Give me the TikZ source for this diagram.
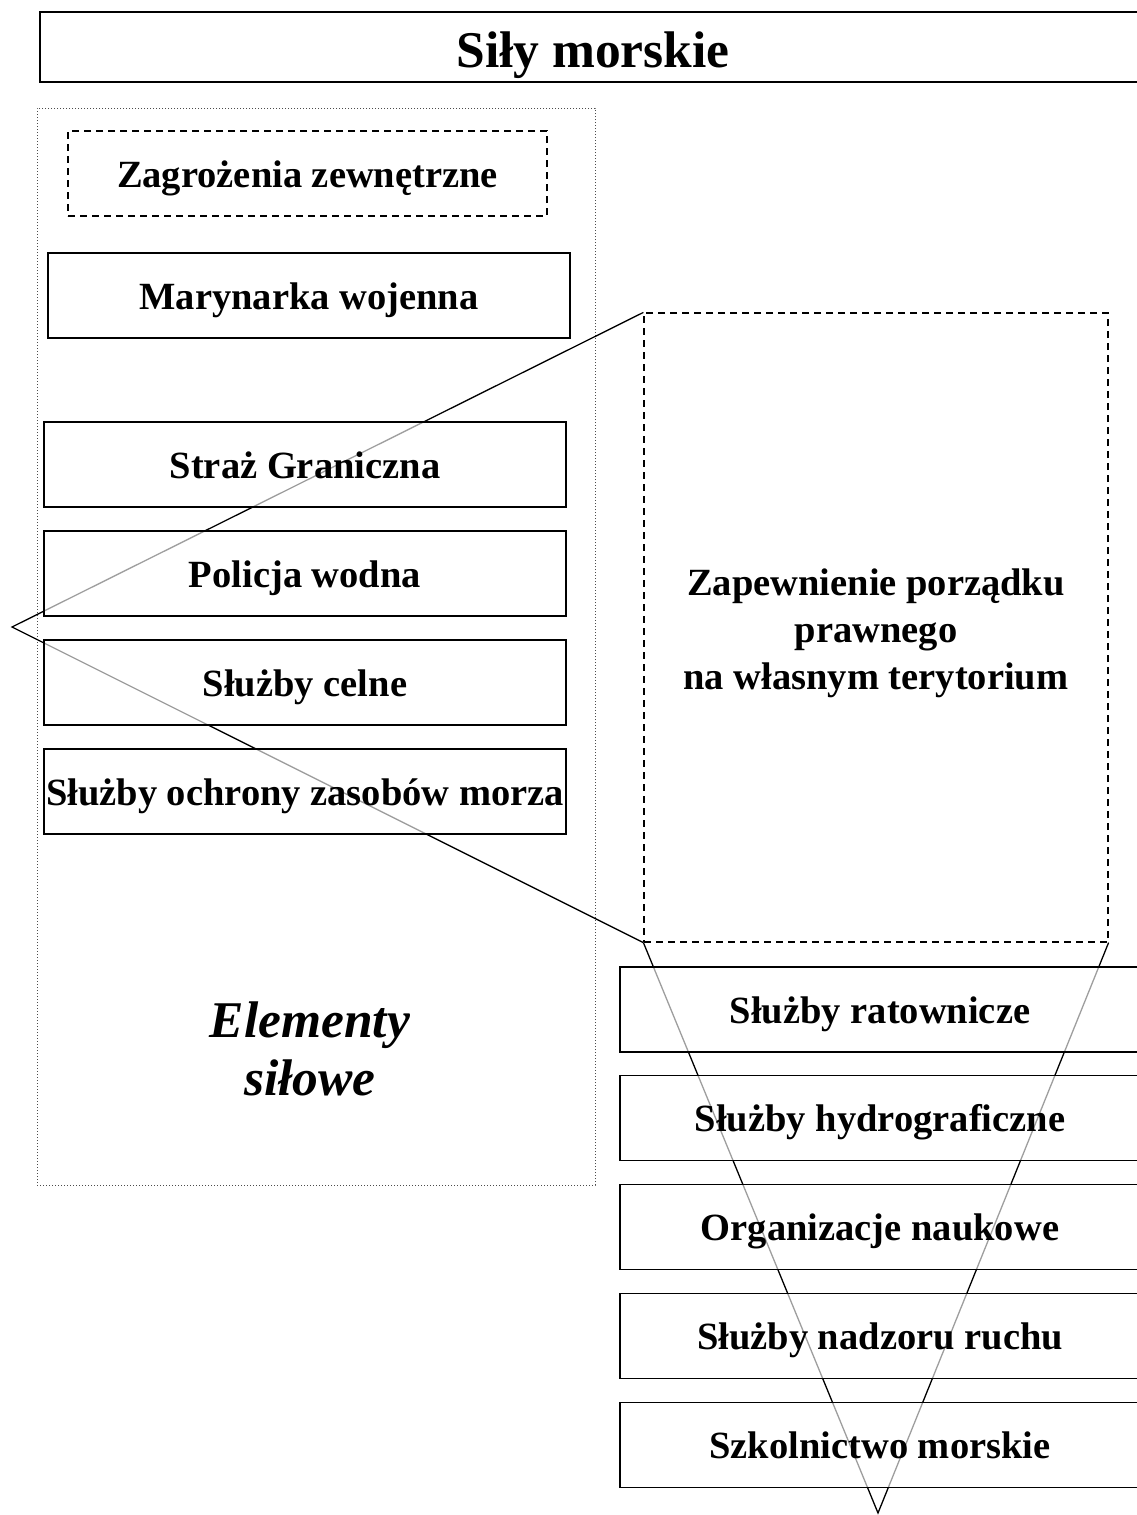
\documentclass[tikz,border=0pt]{standalone}
\usepackage{fontspec}
\setmainfont{Liberation Serif}
\begin{document}
\begin{tikzpicture}[x=1pt,y=-1pt,
  box/.style={draw=black,line width=1.4pt,fill=white,fill opacity=0.62,text opacity=1,
    font=\fontsize{38.5}{46}\selectfont\bfseries,inner sep=0pt,minimum height=85pt,
    text height=33pt,text depth=6pt},
  lbox/.style={box,minimum width=522pt},
  rbox/.style={box,minimum width=520pt},
  tri/.style={draw=black,line width=1.3pt},
  bigfont/.style={font=\fontsize{51.5}{58}\selectfont\bfseries}]
\useasboundingbox (0,0) rectangle (1137,1515);
\clip (0,0) rectangle (1137,1515);
% title
\node[draw=black,line width=1.6pt,minimum width=1106pt,minimum height=70pt,inner sep=0pt,bigfont,
  text height=42pt,text depth=2pt] (title) at (593,47) {Siły morskie};
% container
\node[draw=black!70,dotted,line width=1pt,minimum width=558pt,minimum height=1077pt,inner sep=0pt] (cont) at (316,646.5) {};
% big dashed box
\node[draw=black,dashed,dash pattern=on 7pt off 5pt,line width=1.2pt,minimum width=464pt,minimum height=629pt,inner sep=0pt] (order) at (876,627.5) {};
\node[align=center,font=\fontsize{38.5}{47}\selectfont\bfseries,inner sep=0pt] (ordertext) at (876,633)
  {Zapewnienie porządku\\prawnego\\ na własnym terytorium};
\coordinate (apexL) at (12,627);
\coordinate (apexB) at (878,1513);
% triangles (drawn below boxes)
\draw[tri] (order.north west) -- (apexL) -- (order.south west);
\draw[tri] (order.south west) -- (apexB) -- (order.south east);
% left boxes
\node[box,dashed,dash pattern=on 7pt off 5pt,minimum width=479pt] (zag) at (307.5,173.5) {Zagrożenia zewnętrzne};
\node[lbox] (mar) at (309,295.5) {Marynarka wojenna};
\node[lbox] (sg) at (305,464.5) {Straż Graniczna};
\node[lbox] (pw) at (305,573.5) {Policja wodna};
\node[lbox] (sc) at (305,682.5) {Służby celne};
\node[lbox] (so) at (305,791.5) {Służby ochrony zasobów morza};
% Elementy siłowe
\node[align=center,font=\fontsize{51.5}{58}\selectfont\bfseries\itshape,inner sep=0pt] (el) at (310,1049) {Elementy\\siłowe};
% right boxes
\node[rbox] (r1) at (880,1009.5) {Służby ratownicze};
\node[rbox] (r2) at (880,1118) {Służby hydrograficzne};
\node[rbox] (r3) at (880,1227) {Organizacje naukowe};
\node[rbox] (r4) at (880,1336) {Służby nadzoru ruchu};
\node[rbox] (r5) at (880,1445) {Szkolnictwo morskie};
\end{tikzpicture}
\end{document}
